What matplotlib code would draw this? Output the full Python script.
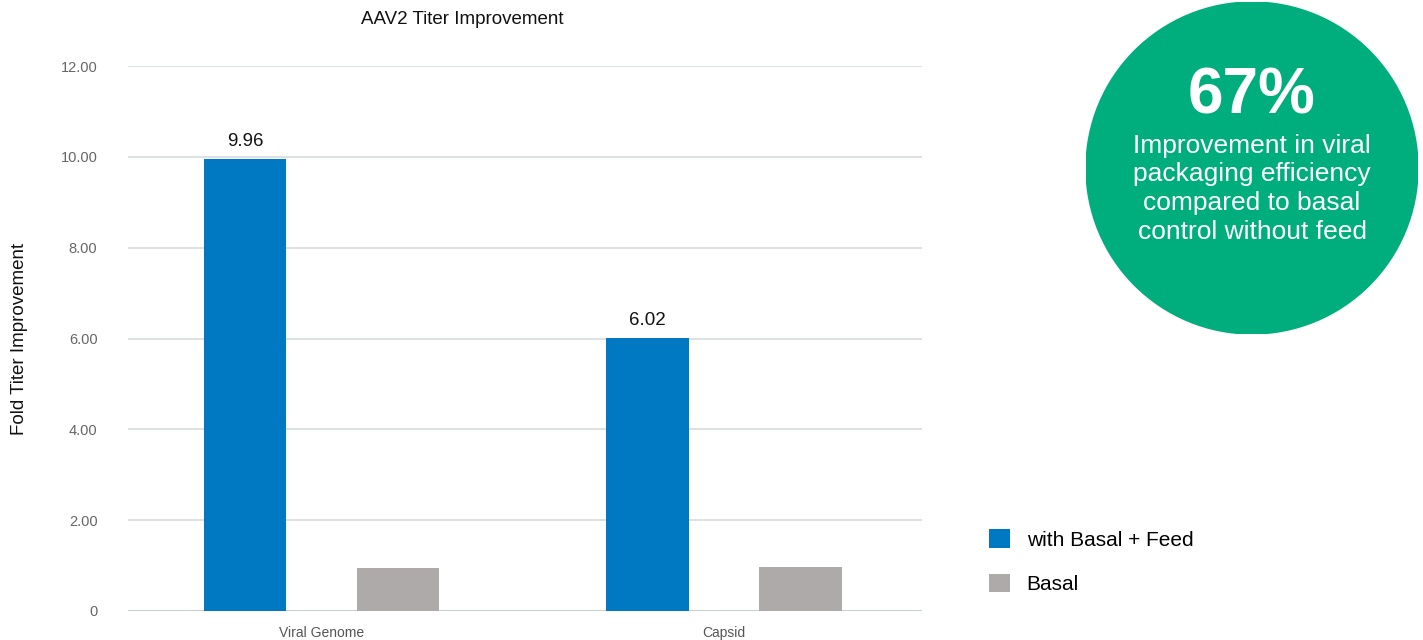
import matplotlib
matplotlib.use('Agg')
import matplotlib.pyplot as plt
from matplotlib.patches import Circle
import numpy as np

plt.rcParams['font.family'] = ['Liberation Sans', 'DejaVu Sans']

# 데이터
categories = ['Viral Genome', 'Capsid']
feed_values = [9.96, 6.02]
basal_values = [0.95, 0.97]
series_names = ['with Basal + Feed', 'Basal']
y_ticks = [0, 2, 4, 6, 8, 10, 12]
y_tick_labels = ['0', '2.00', '4.00', '6.00', '8.00', '10.00', '12.00']

blue = '#0079C2'
grey = '#AEAAA9'
green = '#00AE7D'

fig = plt.figure(figsize=(14.23, 6.4), dpi=100)
ax = fig.add_axes([128/1423, 29/640, 794/1423, 545/640])

x = np.arange(len(categories))
w = 0.204
off = 0.19
b1 = ax.bar(x - off, feed_values, w, color=blue, label=series_names[0], zorder=3)
b2 = ax.bar(x + off, basal_values, w, color=grey, label=series_names[1], zorder=3)
ax.bar_label(b1, labels=['%.2f' % v for v in feed_values], padding=6, fontsize=13.5, color='#111111')

ax.set_xlim(-0.481, 1.492)
ax.set_ylim(0, 12)
ax.set_yticks(y_ticks)
ax.set_yticklabels(y_tick_labels)
ax.set_xticks(x)
ax.set_xticklabels(categories)
ax.tick_params(axis='y', length=0, pad=22, labelsize=10.5, labelcolor='#666666')
ax.tick_params(axis='x', length=0, pad=11, labelsize=10, labelcolor='#555555')
for s in ax.spines.values():
    s.set_visible(False)
ax.yaxis.grid(True, color='#D5D9DD', linewidth=1.1, zorder=0)
ax.axhline(0, color='#C3CCD3', linewidth=2, zorder=2)
ax.set_ylabel('Fold Titer Improvement', fontsize=13.5, color='#111111')
ax.yaxis.set_label_coords(-0.126, 0.5)

fig.text(462/1423, 1 - 19/640, 'AAV2 Titer Improvement', ha='center', va='center',
         fontsize=13.5, color='#111111')

fig.legend(handles=[b1, b2], labels=series_names, loc='upper left',
           bbox_to_anchor=(983/1423, 1 - 523/640), frameon=False, fontsize=15,
           handlelength=1.0, handleheight=1.0, handletextpad=0.8, labelspacing=1.15,
           borderaxespad=0, borderpad=0.3)

# 원형 강조
cax = fig.add_axes([(1252 - 166)/1423, (640 - 168 - 166)/640, 332/1423, 332/640])
cax.set_xlim(0, 1)
cax.set_ylim(0, 1)
cax.axis('off')
cax.add_patch(Circle((0.5, 0.5), 0.5, color=green))
cax.text(0.5, 0.714, '67%', ha='center', va='center', fontsize=46, fontweight='bold', color='white')
cax.text(0.5, 0.437, 'Improvement in viral\npackaging efficiency\ncompared to basal\ncontrol without feed',
         ha='center', va='center', fontsize=19, color='white', linespacing=1.26)

fig.savefig('out.png', dpi=100)
